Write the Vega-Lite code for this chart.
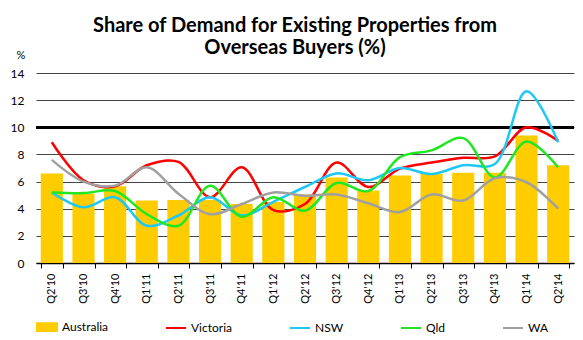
{
  "$schema": "https://vega.github.io/schema/vega-lite/v6.json",
  "width": 538,
  "height": 190,
  "autosize": "none",
  "padding": {"left": 36, "top": 73, "right": 9, "bottom": 77},
  "background": "white",
  "config": {"view": {"stroke": null}, "font": "Lato"},
  "title": {
    "text": ["Share of Demand for Existing Properties from", "Overseas Buyers (%)"],
    "font": "Lato", "fontSize": 20, "fontWeight": "bold", "color": "black",
    "anchor": "middle", "frame": "group", "offset": 18, "lineHeight": 22, "dx": -10, "dy": 27
  },
  "data": {
    "values": [
      {"q": "Q2'10", "Australia": 6.6, "Victoria": 8.9, "NSW": 5.2, "Qld": 5.2, "WA": 7.6},
      {"q": "Q3'10", "Australia": 5.1, "Victoria": 6.1, "NSW": 4.1, "Qld": 5.15, "WA": 6.0},
      {"q": "Q4'10", "Australia": 5.65, "Victoria": 5.65, "NSW": 4.85, "Qld": 5.3, "WA": 5.7},
      {"q": "Q1'11", "Australia": 4.6, "Victoria": 7.2, "NSW": 2.75, "Qld": 3.6, "WA": 7.05},
      {"q": "Q2'11", "Australia": 4.65, "Victoria": 7.45, "NSW": 3.5, "Qld": 2.75, "WA": 5.1},
      {"q": "Q3'11", "Australia": 4.65, "Victoria": 4.85, "NSW": 4.85, "Qld": 5.7, "WA": 3.6},
      {"q": "Q4'11", "Australia": 4.35, "Victoria": 7.05, "NSW": 3.5, "Qld": 3.4, "WA": 4.35},
      {"q": "Q1'12", "Australia": 4.5, "Victoria": 3.9, "NSW": 4.5, "Qld": 4.85, "WA": 5.2},
      {"q": "Q2'12", "Australia": 5.05, "Victoria": 4.35, "NSW": 5.6, "Qld": 3.85, "WA": 4.95},
      {"q": "Q3'12", "Australia": 6.3, "Victoria": 7.4, "NSW": 6.6, "Qld": 5.9, "WA": 5.05},
      {"q": "Q4'12", "Australia": 5.35, "Victoria": 5.6, "NSW": 6.1, "Qld": 5.3, "WA": 4.4},
      {"q": "Q1'13", "Australia": 6.45, "Victoria": 6.95, "NSW": 7.0, "Qld": 7.8, "WA": 3.75},
      {"q": "Q2'13", "Australia": 6.55, "Victoria": 7.4, "NSW": 6.55, "Qld": 8.3, "WA": 5.05},
      {"q": "Q3'13", "Australia": 6.65, "Victoria": 7.75, "NSW": 7.2, "Qld": 9.2, "WA": 4.6},
      {"q": "Q4'13", "Australia": 6.65, "Victoria": 7.85, "NSW": 7.3, "Qld": 6.3, "WA": 6.25},
      {"q": "Q1'14", "Australia": 9.4, "Victoria": 10.0, "NSW": 12.65, "Qld": 8.95, "WA": 5.95},
      {"q": "Q2'14", "Australia": 7.2, "Victoria": 9.0, "NSW": 8.9, "Qld": 7.05, "WA": 4.0}
    ]
  },
  "transform": [{"fold": ["Australia", "Victoria", "NSW", "Qld", "WA"], "as": ["series", "value"]}],
  "encoding": {
    "y": {
      "field": "value", "type": "quantitative",
      "scale": {"domain": [0, 14]},
      "axis": {
        "values": [0, 2, 4, 6, 8, 10, 12, 14], "title": "%", "titleAngle": 0,
        "titleFontWeight": "normal", "titleFontSize": 11, "titleX": -20, "titleY": -13,
        "titleAlign": "left", "labelFontSize": 12, "labelColor": "black", "labelFont": "Lato",
        "labelOverlap": false, "domain": false, "ticks": false, "labelPadding": 12,
        "grid": true, "gridColor": "#444", "gridWidth": 1
      }
    }
  },
  "layer": [
    {
      "mark": {"type": "rule", "color": "black", "strokeWidth": 2},
      "encoding": {"y": {"datum": 10, "type": "quantitative"}}
    },
    {
      "transform": [{"filter": "datum.series === 'Australia'"}],
      "mark": {"type": "bar", "color": "#FFCC00"},
      "encoding": {
        "x": {
          "field": "q", "type": "ordinal", "sort": null,
          "scale": {"paddingInner": 0.3, "paddingOuter": 0.15},
          "axis": {
            "title": null, "labelAngle": -90, "labelFontSize": 11, "labelColor": "black",
            "labelFont": "Lato", "tickBand": "extent", "tickColor": "black", "tickSize": 5,
            "domainColor": "black", "domainWidth": 1.5, "labelPadding": 5, "grid": false
          }
        },
        "color": {
          "field": "series", "type": "nominal",
          "scale": {"domain": ["Australia", "Victoria", "NSW", "Qld", "WA"], "range": ["#FFCC00", "#FF0000", "#1EC8F5", "#22E622", "#A0A0A0"]},
          "legend": {
            "orient": "bottom", "direction": "horizontal", "title": null, "columns": 5,
            "columnPadding": 53, "symbolSize": 400, "labelFontSize": 12, "labelColor": "black",
            "labelFont": "Lato", "offset": 12,
            "encode": {
              "symbols": {
                "update": {
                  "shape": {"signal": "datum.label === 'Australia' ? 'M-1,-0.38H1V0.38H-1Z' : 'stroke'"},
                  "strokeWidth": {"value": 2},
                  "fill": {"signal": "datum.label === 'Australia' ? '#FFCC00' : 'transparent'"},
                  "stroke": {"signal": "datum.label === 'Australia' ? '#FFCC00' : scale('color', datum.value)"}
                }
              }
            }
          }
        }
      }
    },
    {
      "transform": [{"filter": "datum.series !== 'Australia'"}],
      "mark": {"type": "line", "interpolate": "catmull-rom", "strokeWidth": 2.5},
      "encoding": {
        "x": {"field": "q", "type": "ordinal", "sort": null},
        "color": {"field": "series", "type": "nominal"}
      }
    }
  ]
}
